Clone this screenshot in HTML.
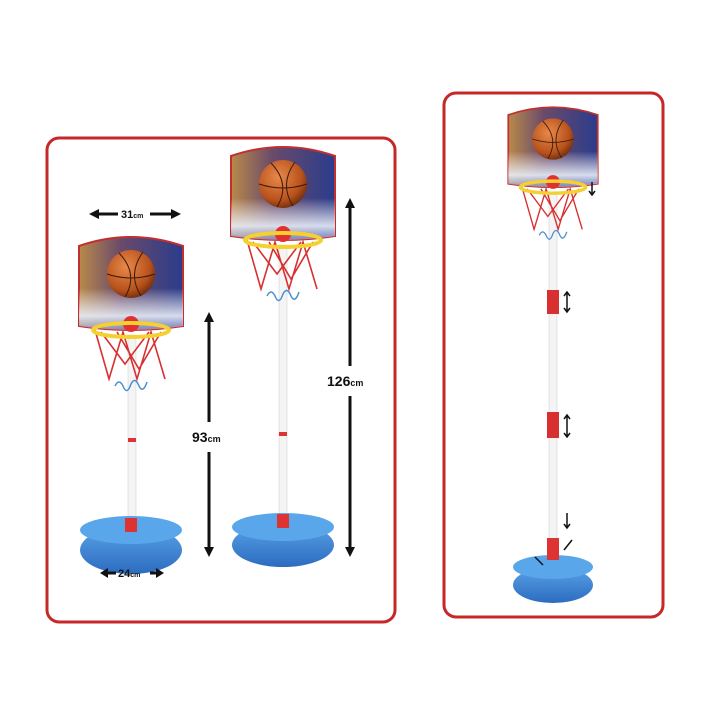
<!DOCTYPE html>
<html><head><meta charset="utf-8"><style>body{margin:0;background:#fff}svg{display:block}text{font-family:"Liberation Sans",sans-serif;font-weight:bold}</style></head><body>
<svg width="720" height="720" viewBox="0 0 720 720" xmlns="http://www.w3.org/2000/svg">
<defs>
<linearGradient id="bb" x1="0" x2="1" y1="0" y2="0"><stop offset="0" stop-color="#b98a4a"/><stop offset="0.4" stop-color="#6a4a6a"/><stop offset="1" stop-color="#2a3c8c"/></linearGradient>
<linearGradient id="bb2" x1="0" x2="0" y1="0" y2="1"><stop offset="0.55" stop-color="#fff" stop-opacity="0"/><stop offset="0.85" stop-color="#e8eef8" stop-opacity="0.9"/><stop offset="1" stop-color="#a0b0e0" stop-opacity="0.6"/></linearGradient>
<radialGradient id="ball" cx="0.4" cy="0.35" r="0.7"><stop offset="0" stop-color="#e8894a"/><stop offset="0.7" stop-color="#b8521c"/><stop offset="1" stop-color="#6a2a0c"/></radialGradient>
<linearGradient id="base" x1="0" x2="0" y1="0" y2="1"><stop offset="0" stop-color="#5aa2e6"/><stop offset="1" stop-color="#2c6cc0"/></linearGradient>
<g id="hoop">
<path d="M-52,-78 Q0,-96 52,-78 L52,2 Q0,10 -52,2 Z" fill="url(#bb)" stroke="#c03030" stroke-width="2"/>
<path d="M-52,-78 Q0,-96 52,-78 L52,2 Q0,10 -52,2 Z" fill="url(#bb2)"/>
<circle cx="0" cy="-50" r="24" fill="url(#ball)"/>
<path d="M-24,-50 Q0,-42 24,-50 M-12,-71 Q8,-50 -6,-27 M12,-72 Q-4,-50 10,-28" stroke="#3a1a0a" stroke-width="1" fill="none"/>
<path d="M-36,6 L-22,55 L-8,8 L6,55 L20,8 L34,55 M-30,8 L-6,40 L18,8 M-14,8 L8,45 L30,8" stroke="#d83030" stroke-width="1.6" fill="none"/>
<circle cx="0" cy="0" r="8" fill="#e03030"/>
<ellipse cx="0" cy="6" rx="38" ry="7" fill="none" stroke="#f4d030" stroke-width="4"/>
<path d="M-16,62 q4,-8 8,0 q4,10 8,-2 q4,-8 8,2 q4,8 8,-4" stroke="#4a90d0" stroke-width="1.5" fill="none"/>
</g>
<g id="arr"><path d="M0,0 L-5,9 L5,9 Z" fill="#111"/></g>
</defs>

<rect x="47" y="138" width="348" height="484" rx="12" fill="none" stroke="#c62828" stroke-width="3"/>
<rect x="444" y="93" width="219" height="524" rx="12" fill="none" stroke="#c62828" stroke-width="3"/>

<!-- small hoop -->
<rect x="128" y="335" width="8" height="190" fill="#f4f4f4" stroke="#ccc" stroke-width="0.5"/>
<rect x="128" y="438" width="8" height="4" fill="#d33"/>
<ellipse cx="131" cy="550" rx="51" ry="24" fill="url(#base)"/>
<ellipse cx="131" cy="530" rx="51" ry="14" fill="#5aa6ea"/>
<rect x="125" y="518" width="12" height="14" fill="#d33"/>
<use href="#hoop" x="131" y="324"/>

<!-- large hoop -->
<rect x="279" y="245" width="8" height="280" fill="#f4f4f4" stroke="#ccc" stroke-width="0.5"/>
<rect x="279" y="432" width="8" height="4" fill="#d33"/>
<ellipse cx="283" cy="545" rx="51" ry="22" fill="url(#base)"/>
<ellipse cx="283" cy="527" rx="51" ry="14" fill="#5aa6ea"/>
<rect x="277" y="514" width="12" height="14" fill="#d33"/>
<use href="#hoop" x="283" y="234"/>

<!-- dimension arrows -->
<g stroke="#111" stroke-width="3">
<line x1="96" y1="214" x2="118" y2="214"/><line x1="150" y1="214" x2="174" y2="214"/>
<line x1="209" y1="318" x2="209" y2="422"/><line x1="209" y1="452" x2="209" y2="550"/>
<line x1="350" y1="204" x2="350" y2="366"/><line x1="350" y1="396" x2="350" y2="550"/>
<line x1="106" y1="573" x2="116" y2="573"/><line x1="150" y1="573" x2="158" y2="573"/>
</g>
<path d="M89,214 L99,209 L99,219Z M181,214 L171,209 L171,219Z M100,573 L108,568 L108,578Z M164,573 L156,568 L156,578Z" fill="#111"/>
<path d="M209,312 L204,322 L214,322Z M209,557 L204,547 L214,547Z M350,198 L345,208 L355,208Z M350,557 L345,547 L355,547Z" fill="#111"/>
<text x="121" y="218" font-size="11" fill="#111">31<tspan font-size="7">cm</tspan></text>
<text x="192" y="442" font-size="14" fill="#111">93<tspan font-size="9">cm</tspan></text>
<text x="327" y="386" font-size="14" fill="#111">126<tspan font-size="9">cm</tspan></text>
<text x="118" y="577" font-size="11" fill="#111">24<tspan font-size="7">cm</tspan></text>

<!-- right panel -->
<rect x="549" y="192" width="8" height="360" fill="#f4f4f4" stroke="#ccc" stroke-width="0.5"/>
<rect x="547" y="290" width="12" height="24" fill="#d83030"/>
<rect x="547" y="412" width="12" height="26" fill="#d83030"/>
<ellipse cx="553" cy="585" rx="40" ry="18" fill="url(#base)"/>
<ellipse cx="553" cy="567" rx="40" ry="12" fill="#5aa6ea"/>
<rect x="547" y="538" width="12" height="22" fill="#d33"/>
<g transform="translate(553,182) scale(0.86)"><use href="#hoop"/></g>
<g stroke="#111" stroke-width="1.5" fill="none">
<path d="M567,293 v18 M564,296 l3,-4 l3,4 M564,308 l3,4 l3,-4"/>
<path d="M567,416 v20 M564,419 l3,-4 l3,4 M564,433 l3,4 l3,-4"/>
<path d="M567,513 v14 M564,524 l3,4 l3,-4"/>
<path d="M592,182 v12 M589,191 l3,4 l3,-4"/>
<path d="M535,557 l8,8 M572,540 l-8,10"/>
</g>
</svg>
</body></html>
